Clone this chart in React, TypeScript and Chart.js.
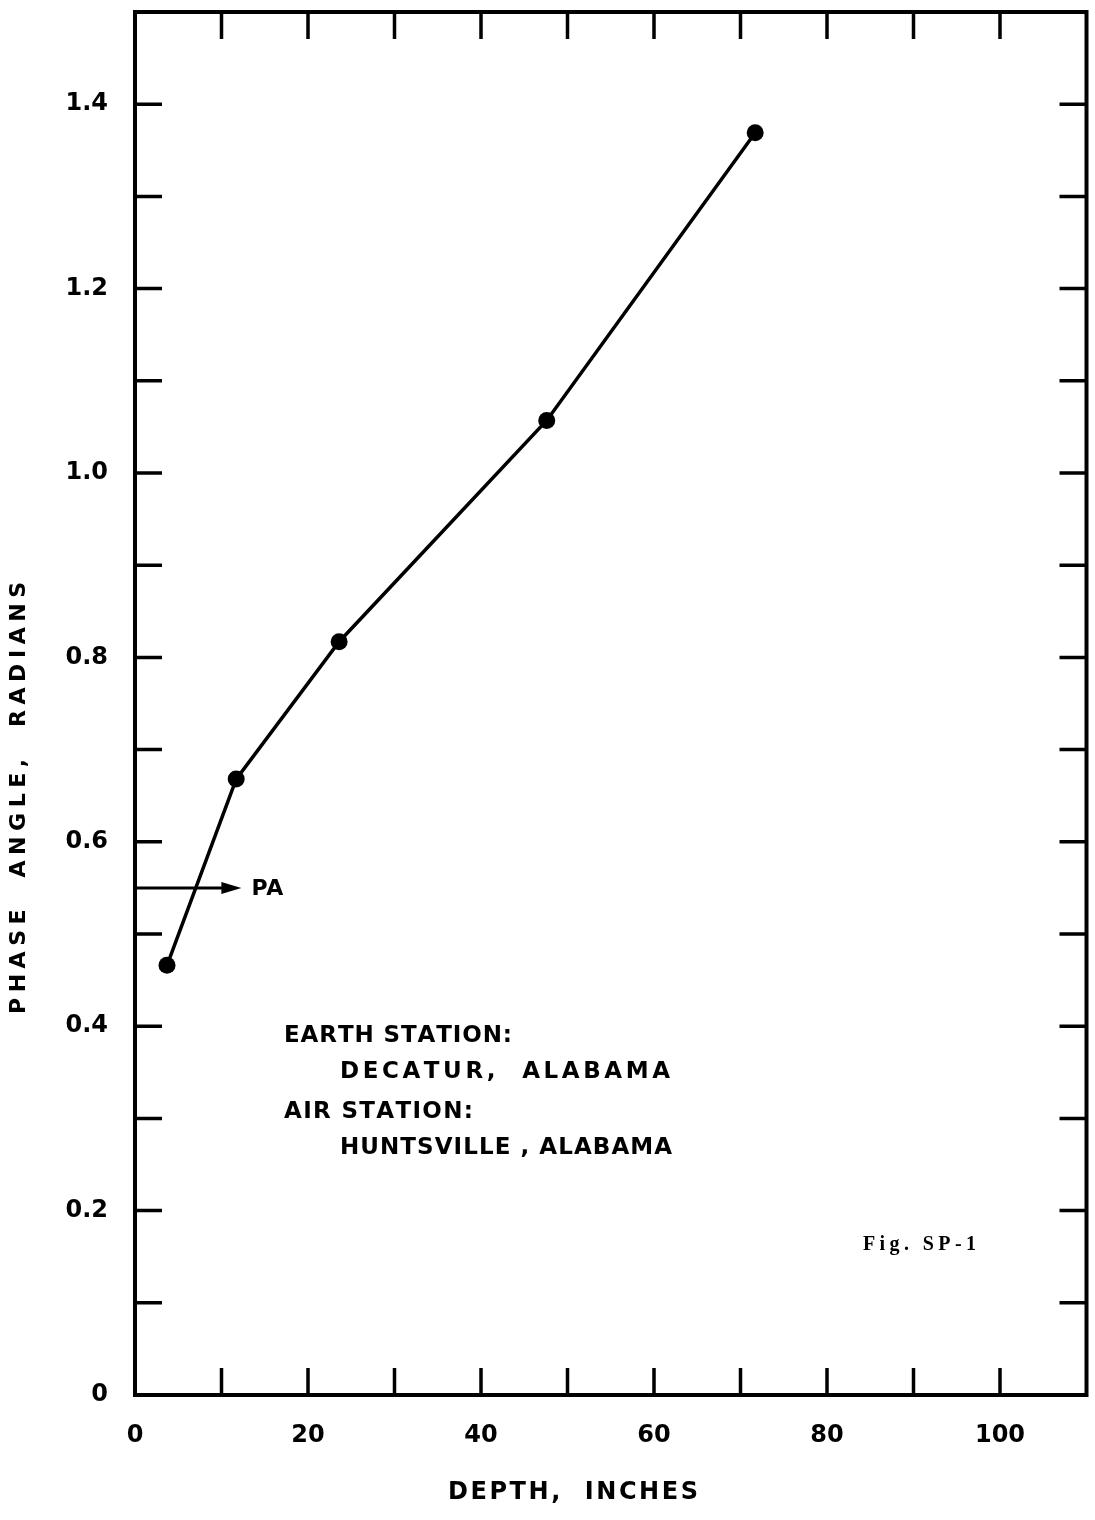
import React, { useEffect, useRef } from "react";
import { Chart, registerables } from "chart.js";

Chart.register(...registerables);

// ---- data ----
const depthInches = [3.7, 11.7, 23.6, 47.6, 71.7];
const phaseRadians = [0.466, 0.668, 0.817, 1.057, 1.369];

const xLabelValues = [0, 20, 40, 60, 80, 100];
const yLabelValues = [0, 0.2, 0.4, 0.6, 0.8, 1.0, 1.2, 1.4];
const xMarkValues = [10, 20, 30, 40, 50, 60, 70, 80, 90, 100];
const yMarkValues = [0.1, 0.2, 0.3, 0.4, 0.5, 0.6, 0.7, 0.8, 0.9, 1.0, 1.1, 1.2, 1.3, 1.4];

const paLevel = 0.55;
const paArrowTip = 12.3;

const xTitle = "DEPTH,  INCHES";
const yTitle = "PHASE  ANGLE,  RADIANS";
const noteLines = ["EARTH STATION:", "DECATUR,  ALABAMA", "AIR STATION:", "HUNTSVILLE , ALABAMA"];
const figLabel = "Fig. SP-1";

const FONT = '"DejaVu Sans", sans-serif';

function drawFitted(ctx: CanvasRenderingContext2D, text: string, x: number, y: number, width: number) {
  const chars = Array.from(text);
  const widths = chars.map((c) => ctx.measureText(c).width);
  const total = widths.reduce((a, b) => a + b, 0);
  const gap = chars.length > 1 ? (width - total) / (chars.length - 1) : 0;
  ctx.textAlign = "left";
  ctx.textBaseline = "middle";
  let cx = x;
  chars.forEach((c, i) => {
    ctx.fillText(c, cx, y);
    cx += widths[i] + gap;
  });
}

const decorPlugin = {
  id: "decor",
  beforeDraw(chart: any) {
    const ctx = chart.ctx as CanvasRenderingContext2D;
    ctx.save();
    ctx.fillStyle = "#fff";
    ctx.fillRect(0, 0, chart.width, chart.height);
    ctx.restore();
  },
  afterDraw(chart: any) {
    const ctx = chart.ctx as CanvasRenderingContext2D;
    const { left, right, top, bottom } = chart.chartArea;
    const xs = chart.scales.x;
    const ys = chart.scales.y;
    ctx.save();
    ctx.strokeStyle = "#000";
    ctx.fillStyle = "#000";
    ctx.lineCap = "butt";

    // frame
    ctx.lineWidth = 4;
    ctx.strokeRect(left, top, right - left, bottom - top);

    // inward tick marks
    const tl = 27;
    ctx.lineWidth = 3.5;
    ctx.beginPath();
    xMarkValues.forEach((v) => {
      const px = xs.getPixelForValue(v);
      ctx.moveTo(px, bottom);
      ctx.lineTo(px, bottom - tl);
      ctx.moveTo(px, top);
      ctx.lineTo(px, top + tl);
    });
    yMarkValues.forEach((v) => {
      const py = ys.getPixelForValue(v);
      ctx.moveTo(left, py);
      ctx.lineTo(left + tl, py);
      ctx.moveTo(right, py);
      ctx.lineTo(right - tl, py);
    });
    ctx.stroke();

    // PA arrow
    const pay = ys.getPixelForValue(paLevel);
    const tipX = xs.getPixelForValue(paArrowTip);
    ctx.lineWidth = 3;
    ctx.beginPath();
    ctx.moveTo(left, pay);
    ctx.lineTo(tipX - 16, pay);
    ctx.stroke();
    ctx.beginPath();
    ctx.moveTo(tipX, pay);
    ctx.lineTo(tipX - 20, pay - 6);
    ctx.lineTo(tipX - 20, pay + 6);
    ctx.closePath();
    ctx.fill();

    ctx.font = `bold 22px ${FONT}`;
    drawFitted(ctx, "PA", tipX + 10, pay + 1, 32);

    // station notes
    ctx.font = `bold 23px ${FONT}`;
    drawFitted(ctx, noteLines[0], 284, 1036, 228);
    drawFitted(ctx, noteLines[1], 340, 1072, 330);
    drawFitted(ctx, noteLines[2], 284, 1112, 189);
    drawFitted(ctx, noteLines[3], 340, 1148, 332);

    // figure label
    ctx.font = `bold 20px "Liberation Serif", serif`;
    drawFitted(ctx, figLabel, 863, 1245, 113);

    // axis titles
    ctx.font = `bold 24px ${FONT}`;
    drawFitted(ctx, xTitle, 448, 1493, 250);
    ctx.save();
    ctx.translate(19, 1014);
    ctx.rotate(-Math.PI / 2);
    ctx.font = `bold 22px ${FONT}`;
    drawFitted(ctx, yTitle, 0, 0, 432);
    ctx.restore();

    ctx.restore();
  },
};

export default function App() {
  const canvasRef = useRef<HTMLCanvasElement | null>(null);

  useEffect(() => {
    document.body.style.margin = "0";
    const canvas = canvasRef.current;
    if (!canvas) return;
    const tickFont = { family: FONT, size: 24, weight: "bold" as const };
    const chart = new Chart(canvas, {
      type: "line",
      data: {
        datasets: [
          {
            data: depthInches.map((d, i) => ({ x: d, y: phaseRadians[i] })),
            borderColor: "#000",
            borderWidth: 3.5,
            pointRadius: 8.5,
            pointBackgroundColor: "#000",
            pointBorderColor: "#000",
            pointBorderWidth: 0,
            tension: 0,
            fill: false,
          },
        ],
      },
      options: {
        animation: false,
        responsive: false,
        events: [],
        layout: { padding: { left: 0, right: 4, top: 12, bottom: 0 } },
        plugins: { legend: { display: false }, tooltip: { enabled: false }, title: { display: false } },
        scales: {
          x: {
            type: "linear",
            position: "bottom",
            min: 0,
            max: 110,
            grid: { display: false, drawTicks: false },
            border: { display: false },
            ticks: {
              color: "#000",
              font: tickFont,
              padding: 26,
              maxRotation: 0,
              callback: (v: any) => String(v),
            },
            afterBuildTicks: (s: any) => {
              s.ticks = xLabelValues.map((value) => ({ value }));
            },
            afterFit: (s: any) => {
              s.height = 125;
              s.paddingLeft = 0;
              s.paddingRight = 0;
            },
          },
          y: {
            type: "linear",
            position: "left",
            min: 0,
            max: 1.5,
            grid: { display: false, drawTicks: false },
            border: { display: false },
            ticks: {
              color: "#000",
              font: tickFont,
              padding: 27,
              callback: (v: any) => (Number(v) === 0 ? "0" : Number(v).toFixed(1)),
            },
            afterBuildTicks: (s: any) => {
              s.ticks = yLabelValues.map((value) => ({ value }));
            },
            afterFit: (s: any) => {
              s.width = 135;
              s.paddingTop = 0;
              s.paddingBottom = 0;
            },
          },
        },
      },
      plugins: [decorPlugin],
    });
    return () => chart.destroy();
  }, []);

  return (
    <div style={{ position: "absolute", left: 0, top: 0, width: 1095, height: 1520 }}>
      <canvas ref={canvasRef} width={1095} height={1520} />
    </div>
  );
}
